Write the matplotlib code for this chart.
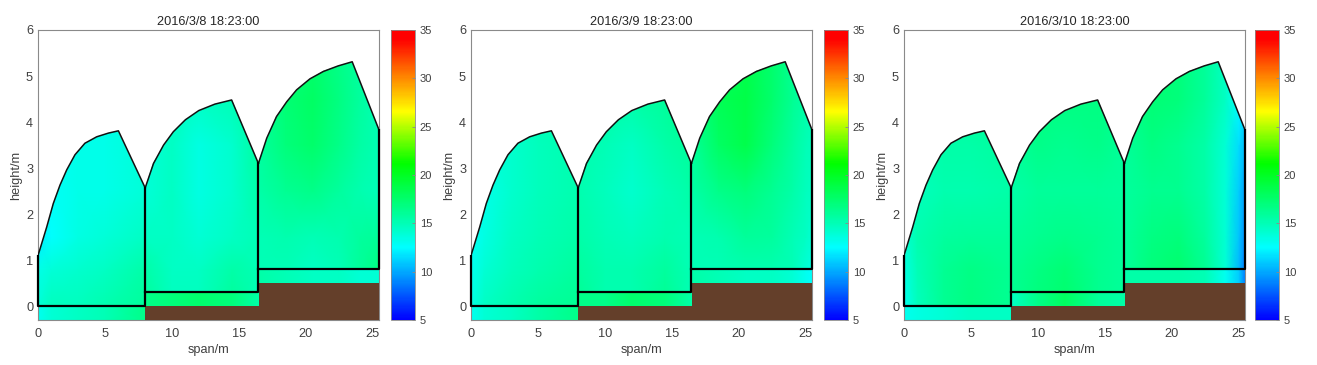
import numpy as np
import matplotlib
matplotlib.use("Agg")
import matplotlib.pyplot as plt
from matplotlib.colors import LinearSegmentedColormap
from matplotlib.patches import Polygon, Rectangle

plt.rcParams['font.family'] = ['Liberation Sans', 'DejaVu Sans']

titles = ["2016/3/8 18:23:00", "2016/3/9 18:23:00", "2016/3/10 18:23:00"]

# sensor grid for the temperature field
grid_x = [0, 1, 3, 5, 8, 10, 12, 14.5, 16.5, 18.5, 20.5, 22.5, 24, 25, 25.5]
grid_y = [0, 0.8, 1.5, 2.5, 3.5, 4.5, 5.5]

temp_day1 = [
    [13.8, 14.8, 14.8, 15.2, 16.0, 14.8, 14.8, 16.0, 15.0, 14.5, 14.5, 15.0, 16.0, 16.5, 17.0],
    [13.3, 13.8, 14.2, 14.6, 15.5, 14.5, 14.5, 15.5, 15.0, 15.0, 14.5, 15.0, 16.0, 16.5, 17.0],
    [12.0, 12.5, 13.5, 13.8, 14.5, 14.5, 14.0, 14.5, 15.0, 15.3, 15.0, 15.3, 15.8, 16.0, 16.0],
    [12.8, 12.8, 13.3, 13.3, 13.8, 14.5, 13.5, 14.2, 15.5, 16.2, 16.5, 15.8, 15.3, 15.0, 15.0],
    [13.2, 13.0, 13.3, 13.3, 13.8, 14.5, 13.5, 14.2, 15.8, 17.0, 17.6, 16.5, 15.6, 15.2, 15.0],
    [13.3, 13.3, 13.3, 13.4, 14.0, 14.5, 14.5, 15.0, 16.0, 17.3, 17.8, 16.8, 15.8, 15.3, 15.3],
    [13.3, 13.3, 13.3, 13.4, 14.0, 14.5, 14.5, 15.0, 16.0, 16.8, 17.5, 16.5, 15.8, 15.3, 15.3],
]
temp_day2 = [
    [13.5, 14.5, 15.3, 15.8, 16.2, 15.3, 15.3, 16.2, 15.0, 15.0, 15.3, 15.3, 15.0, 14.0, 13.5],
    [13.0, 14.0, 14.8, 15.3, 15.8, 15.3, 15.3, 15.8, 15.0, 15.0, 15.3, 15.3, 15.0, 14.0, 13.5],
    [12.8, 13.5, 14.5, 15.0, 15.5, 15.0, 14.8, 15.2, 15.0, 15.3, 16.0, 15.8, 15.0, 14.5, 14.0],
    [13.0, 13.3, 14.2, 14.8, 15.2, 14.8, 14.2, 15.0, 15.5, 16.5, 17.0, 16.2, 15.5, 14.8, 14.5],
    [13.5, 13.8, 14.2, 14.8, 15.2, 15.0, 14.5, 15.5, 16.0, 17.8, 18.6, 17.0, 15.8, 15.0, 14.8],
    [14.0, 14.0, 14.5, 15.0, 15.5, 15.5, 15.5, 16.0, 16.5, 18.3, 18.8, 17.5, 16.2, 15.5, 15.0],
    [14.0, 14.0, 14.5, 15.0, 15.5, 15.5, 15.5, 16.0, 16.5, 17.5, 18.5, 17.5, 16.2, 15.5, 15.0],
]
temp_day3 = [
    [13.0, 14.8, 16.2, 16.8, 16.2, 17.0, 17.5, 16.3, 16.0, 17.0, 17.5, 16.2, 14.0, 10.5, 8.5],
    [13.5, 15.0, 16.2, 16.7, 16.2, 16.8, 17.2, 16.3, 16.0, 17.0, 17.5, 16.2, 14.0, 10.5, 8.5],
    [14.0, 15.2, 15.8, 16.0, 16.0, 16.3, 16.6, 16.3, 16.0, 16.8, 17.0, 15.8, 14.0, 10.8, 9.0],
    [14.2, 14.8, 15.2, 15.2, 15.5, 16.0, 16.0, 16.0, 15.8, 16.3, 16.3, 15.5, 13.8, 11.0, 9.5],
    [14.8, 15.0, 15.5, 15.5, 15.8, 16.5, 16.3, 16.5, 16.0, 16.8, 16.3, 15.5, 14.0, 11.5, 10.5],
    [15.0, 15.3, 15.8, 16.0, 16.3, 16.8, 16.8, 16.8, 16.3, 17.3, 17.0, 16.0, 14.5, 12.5, 11.5],
    [15.0, 15.3, 15.8, 16.0, 16.3, 16.8, 16.8, 16.8, 16.3, 17.3, 17.0, 16.0, 14.5, 12.5, 11.5],
]
fields = [temp_day1, temp_day2, temp_day3]

# the soil strips under each floor, same grid_x
strip_day1 = [13.0, 14.0, 14.5, 15.0, 16.5, 17.0, 17.5, 17.0, 15.5, 15.0, 14.5, 14.5, 14.0, 14.0, 14.0]
strip_day2 = [13.0, 14.0, 14.5, 15.5, 16.5, 16.5, 17.5, 17.0, 15.5, 15.0, 14.5, 14.5, 14.0, 13.0, 12.5]
strip_day3 = [13.0, 13.5, 14.0, 14.5, 14.5, 16.5, 18.0, 16.0, 15.5, 15.5, 15.5, 15.0, 13.0, 11.0, 8.5]
strips = [strip_day1, strip_day2, strip_day3]

# greenhouse outline
roof1_x = [0, 0.65, 1.14, 1.64, 2.14, 2.76, 3.5, 4.38, 5.25, 6, 8]
roof1_y = [1.1, 1.72, 2.23, 2.63, 2.96, 3.29, 3.54, 3.68, 3.76, 3.81, 2.57]
roof2_x = [8, 8.62, 9.37, 10.1, 11, 12, 13.2, 14.45, 16.45]
roof2_y = [2.57, 3.1, 3.5, 3.79, 4.05, 4.25, 4.39, 4.48, 3.1]
roof3_x = [16.45, 17.07, 17.8, 18.56, 19.3, 20.3, 21.3, 22.4, 23.45, 25.45]
roof3_y = [3.1, 3.65, 4.12, 4.44, 4.7, 4.94, 5.1, 5.22, 5.31, 3.83]
floor_y = [0, 0.3, 0.8]
soil_x = [8, 16.5, 16.5, 25.45, 25.45, 8]
soil_y = [0, 0, 0.5, 0.5, -0.3, -0.3]

cbar_stops = [(0.0, "#0000ff"), (0.25, "#00ffff"), (0.54, "#00ff00"),
              (0.72, "#ffff00"), (0.97, "#ff0000"), (1.0, "#ff0000")]
cmap = LinearSegmentedColormap.from_list("temp", cbar_stops, N=256)

W, H = 1317.0, 365.0
ax_left = [38, 471, 904]
cb_left = [391, 824, 1255]
gray = "#8a8a8a"
text_c = "#404040"

fig = plt.figure(figsize=(13.17, 3.65), dpi=100)

for i in range(3):
    ax = fig.add_axes([ax_left[i] / W, 1 - 320 / H, 341 / W, 290 / H])
    ax.set_xlim(0, 25.45)
    ax.set_ylim(-0.3, 6)

    outline_x = [0] + roof1_x + roof2_x[1:] + roof3_x[1:] + [25.45, 0]
    outline_y = [-0.3] + roof1_y + roof2_y[1:] + roof3_y[1:] + [-0.3, -0.3]
    clip = Polygon(np.column_stack([outline_x, outline_y]), transform=ax.transData)

    m = ax.pcolormesh(grid_x, grid_y, np.array(fields[i]), cmap=cmap, vmin=5, vmax=35,
                      shading="gouraud", zorder=1)
    m.set_clip_path(clip)

    # strips below the three floors
    for x0, x1, y0, y1 in [(0, 8, -0.3, 0), (8, 16.5, 0, 0.3), (16.5, 25.45, 0.5, 0.8)]:
        s = ax.pcolormesh(grid_x, [y0, y1], np.array([strips[i], strips[i]]), cmap=cmap,
                          vmin=5, vmax=35, shading="gouraud", zorder=2)
        s.set_clip_path(Rectangle((x0, y0), x1 - x0, y1 - y0, transform=ax.transData))

    ax.fill(soil_x, soil_y, color="#643f2a", lw=0, zorder=3)

    roof_lw = 1.1
    wall_lw = 1.6
    ax.plot(roof1_x, roof1_y, color="#111111", lw=roof_lw, zorder=4)
    ax.plot(roof2_x, roof2_y, color="#111111", lw=roof_lw, zorder=4)
    ax.plot(roof3_x, roof3_y, color="#111111", lw=roof_lw, zorder=4)
    ax.plot([0, 0, 8, 8], [roof1_y[0], floor_y[0], floor_y[0], roof1_y[-1]], "k", lw=wall_lw, zorder=4, clip_on=False)
    ax.plot([8, 16.45, 16.45], [floor_y[1], floor_y[1], roof2_y[-1]], "k", lw=wall_lw, zorder=4)
    ax.plot([16.45, 25.45, 25.45], [floor_y[2], floor_y[2], roof3_y[-1]], "k", lw=wall_lw, zorder=4, clip_on=False)

    ax.set_xticks([0, 5, 10, 15, 20, 25])
    ax.set_yticks([0, 1, 2, 3, 4, 5, 6])
    ax.tick_params(direction="in", length=0, labelsize=9.2, labelcolor=text_c)
    ax.tick_params(axis="x", pad=6)
    ax.tick_params(axis="y", pad=3.5)
    ax.set_title(titles[i], fontsize=9.2, color="#262626", pad=3.5)
    ax.set_xlabel("span/m", fontsize=9.2, color=text_c, labelpad=3)
    ax.set_ylabel("height/m", fontsize=9.2, color=text_c, labelpad=3)
    for sp in ax.spines.values():
        sp.set_color(gray)
        sp.set_linewidth(0.8)

    cax = fig.add_axes([cb_left[i] / W, 1 - 320 / H, 24 / W, 290 / H])
    cb = fig.colorbar(m, cax=cax)
    cb.set_ticks([5, 10, 15, 20, 25, 30, 35])
    cax.tick_params(direction="in", length=2.5, width=0.6, color=gray, labelsize=8,
                    labelcolor=text_c, pad=3.5)
    cb.outline.set_edgecolor(gray)
    cb.outline.set_linewidth(0.6)

fig.savefig("out.png", dpi=100)
